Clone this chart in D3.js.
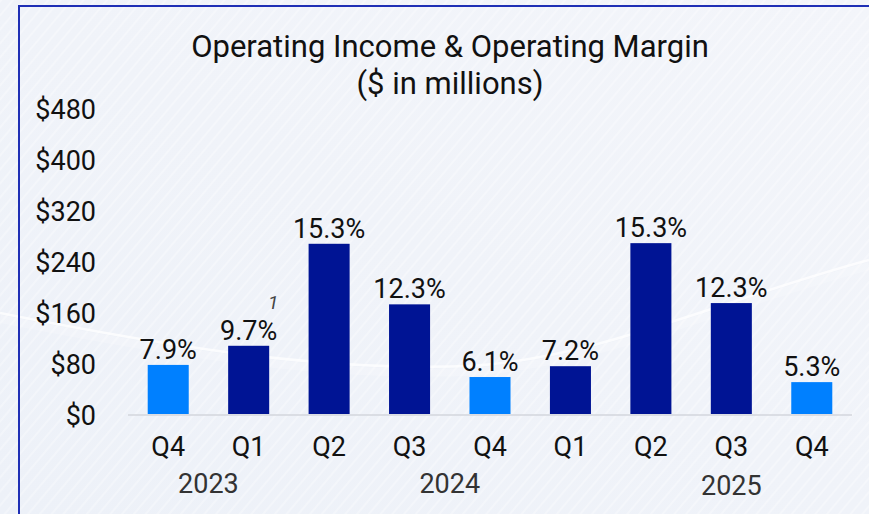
<!DOCTYPE html>
<html><head><meta charset="utf-8">
<script src="https://cdn.jsdelivr.net/npm/d3@7"></script>
<style>html,body{margin:0;padding:0;overflow:hidden;background:#eef2f9}</style>
</head><body>
<svg id="chart" width="869" height="514"></svg>
<script>
const quarters = ["Q4","Q1","Q2","Q3","Q4","Q1","Q2","Q3","Q4"];
const periodKeys = ["2023Q4","2024Q1","2024Q2","2024Q3","2024Q4","2025Q1","2025Q2","2025Q3","2025Q4"];
const operatingIncome = [77, 107, 267, 172, 58, 75, 268, 174, 50];
const operatingMargin = ["7.9%","9.7%","15.3%","12.3%","6.1%","7.2%","15.3%","12.3%","5.3%"];
const isFourthQuarter = [true,false,false,false,true,false,false,false,true];
const yTicks = [0,80,160,240,320,400,480];
const years = [
  {label:"2023", from:"2023Q4", to:"2024Q1"},
  {label:"2024", from:"2024Q3", to:"2024Q4"},
  {label:"2025", from:"2025Q3", to:"2025Q3"}
];
const titleLines = ["Operating Income & Operating Margin", "($ in millions)"];
const footnoteAt = "2024Q1";

const W = 869, H = 514;
const svg = d3.select("#chart");
const font = "Roboto, 'Noto Sans', sans-serif";

// background
const defs = svg.append("defs");
const bg = defs.append("linearGradient").attr("id","bg").attr("x1","0").attr("y1","1").attr("x2","1").attr("y2","0");
bg.append("stop").attr("offset","0").attr("stop-color","#edf1f8");
bg.append("stop").attr("offset","1").attr("stop-color","#f3f5fa");
svg.append("rect").attr("width",W).attr("height",H).attr("fill","url(#bg)");
const pat = defs.append("pattern").attr("id","stripes").attr("width",9).attr("height",9)
  .attr("patternUnits","userSpaceOnUse").attr("patternTransform","rotate(40)");
pat.append("rect").attr("width",2).attr("height",9).attr("fill","#ffffff").attr("opacity",0.3);
svg.append("rect").attr("width",W).attr("height",H).attr("fill","url(#stripes)");
// swoosh
svg.append("path").attr("d","M0,313 C160,345 320,372 470,366 C600,358 720,300 869,260")
  .attr("fill","none").attr("stroke","#ffffff").attr("stroke-width",2.5).attr("opacity",0.75);
svg.append("path").attr("d","M0,319 C160,351 320,378 470,372 C600,364 720,306 869,266")
  .attr("fill","none").attr("stroke","#ffffff").attr("stroke-width",8).attr("opacity",0.2);

// frame
svg.append("path").attr("d",`M19,${H} L19,6 L${W},6`).attr("fill","none")
  .attr("stroke","#1f2fb5").attr("stroke-width",2);

// scales
const x = d3.scaleBand().domain(periodKeys).range([128,852]).paddingInner(0.49).paddingOuter(0.245);
const y = d3.scaleLinear().domain([0,480]).range([414,108]);

// title
svg.append("g").selectAll("text").data(titleLines).join("text")
  .attr("x",450).attr("y",(d,i) => 57 + i*37).attr("text-anchor","middle")
  .attr("font-family",font).attr("font-size",31).attr("fill","#111")
  .text(d => d);

// y axis
const yAxis = d3.axisLeft(y).tickValues(yTicks).tickSize(0).tickPadding(0)
  .tickFormat(d => "$" + d);
const yg = svg.append("g").attr("transform","translate(96,0)").call(yAxis);
yg.select(".domain").remove();
yg.selectAll("text").attr("font-family",font).attr("font-size",27).attr("fill","#111").attr("dy","0.38em");

// bars
svg.append("g").selectAll("rect").data(periodKeys).join("rect")
  .attr("x", d => x(d)).attr("width", x.bandwidth())
  .attr("y", (d,i) => y(operatingIncome[i]))
  .attr("height", (d,i) => y(0) - y(operatingIncome[i]))
  .attr("fill", (d,i) => isFourthQuarter[i] ? "#0080ff" : "#001494");

// baseline
svg.append("line").attr("x1",128).attr("x2",852).attr("y1",y(0)+1).attr("y2",y(0)+1)
  .attr("stroke","#d3d6dc").attr("stroke-width",1.5);

// value labels
svg.append("g").selectAll("text").data(periodKeys).join("text")
  .attr("x", d => x(d) + x.bandwidth()/2)
  .attr("y", (d,i) => y(operatingIncome[i]) - 6)
  .attr("text-anchor","middle").attr("font-family",font).attr("font-size",27).attr("fill","#111")
  .text((d,i) => operatingMargin[i]);

// footnote
svg.append("text").attr("x", x(footnoteAt) + x.bandwidth() + 4).attr("y", 309)
  .attr("text-anchor","middle").attr("font-family",font).attr("font-size",19)
  .attr("font-style","italic").attr("fill","#444").text("1");

// x axis quarter labels
const xAxis = d3.axisBottom(x).tickSize(0).tickPadding(0).tickFormat((d,i) => quarters[i]);
const xg = svg.append("g").attr("transform","translate(0,456)").call(xAxis);
xg.select(".domain").remove();
xg.selectAll("text").attr("font-family",font).attr("font-size",27).attr("fill","#111").attr("dy",0);

// year labels
svg.append("g").selectAll("text").data(years).join("text")
  .attr("x", d => (x(d.from) + x(d.to)) / 2 + x.bandwidth()/2)
  .attr("y", (d,i) => i === 2 ? 495 : 493)
  .attr("text-anchor","middle").attr("font-family",font).attr("font-size",27).attr("fill","#333")
  .text(d => d.label);
</script>
</body></html>
